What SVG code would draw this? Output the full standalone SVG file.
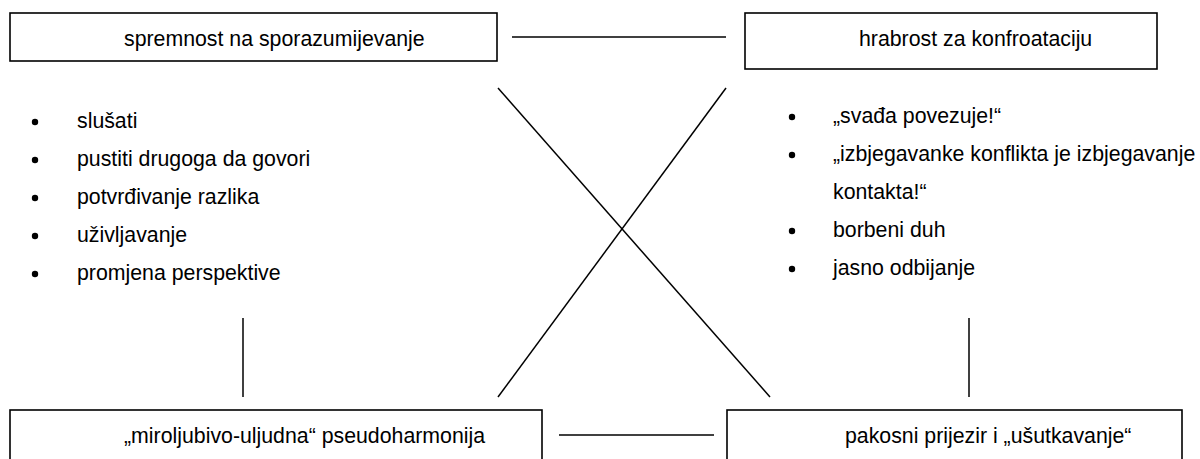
<svg xmlns="http://www.w3.org/2000/svg" width="1200" height="459" viewBox="0 0 1200 459">
<style>
.box{fill:#fff;stroke:#000;stroke-width:1.6}
.ln{stroke:#000;stroke-width:1.5;fill:none}
text{font-family:"Liberation Sans",Arial,sans-serif;font-size:21.3px;fill:#000}
.b{fill:#000}
</style>
<rect width="1200" height="459" fill="#fff"/>
<g id="connectors">
<line class="ln" x1="512" y1="37" x2="726" y2="37"/>
<line class="ln" x1="559" y1="435" x2="714" y2="435"/>
<line class="ln" x1="498" y1="88" x2="770" y2="397"/>
<line class="ln" x1="726" y1="88" x2="498" y2="397"/>
<line class="ln" x1="243" y1="318" x2="243" y2="397"/>
<line class="ln" x1="969" y1="318" x2="969" y2="397"/>
</g>
<g id="n1">
<rect class="box" x="10" y="13" width="487" height="48"/>
<text x="124" y="46">spremnost na sporazumijevanje</text>
</g>
<g id="n2">
<rect class="box" x="745" y="13" width="412" height="56"/>
<text x="859" y="46">hrabrost za konfroataciju</text>
</g>
<g id="n3">
<rect class="box" x="10" y="410" width="532" height="60"/>
<text x="124" y="443">„miroljubivo-uljudna“ pseudoharmonija</text>
</g>
<g id="n4">
<rect class="box" x="727" y="410" width="455" height="60"/>
<text x="845" y="443">pakosni prijezir i „ušutkavanje“</text>
</g>
<g id="list-left">
<circle class="b" cx="35" cy="122" r="3.2"/><text x="77" y="128">slušati</text>
<circle class="b" cx="35" cy="160" r="3.2"/><text x="77" y="166">pustiti drugoga da govori</text>
<circle class="b" cx="35" cy="198" r="3.2"/><text x="77" y="204">potvrđivanje razlika</text>
<circle class="b" cx="35" cy="236" r="3.2"/><text x="77" y="242">uživljavanje</text>
<circle class="b" cx="35" cy="274" r="3.2"/><text x="77" y="280">promjena perspektive</text>
</g>
<g id="list-right">
<circle class="b" cx="792" cy="117" r="3.2"/><text x="833" y="123">„svađa povezuje!“</text>
<circle class="b" cx="792" cy="155" r="3.2"/><text x="833" y="161">„izbjegavanke konflikta je izbjegavanje</text>
<text x="833" y="199">kontakta!“</text>
<circle class="b" cx="792" cy="231" r="3.2"/><text x="833" y="237">borbeni duh</text>
<circle class="b" cx="792" cy="269" r="3.2"/><text x="833" y="275">jasno odbijanje</text>
</g>
</svg>
